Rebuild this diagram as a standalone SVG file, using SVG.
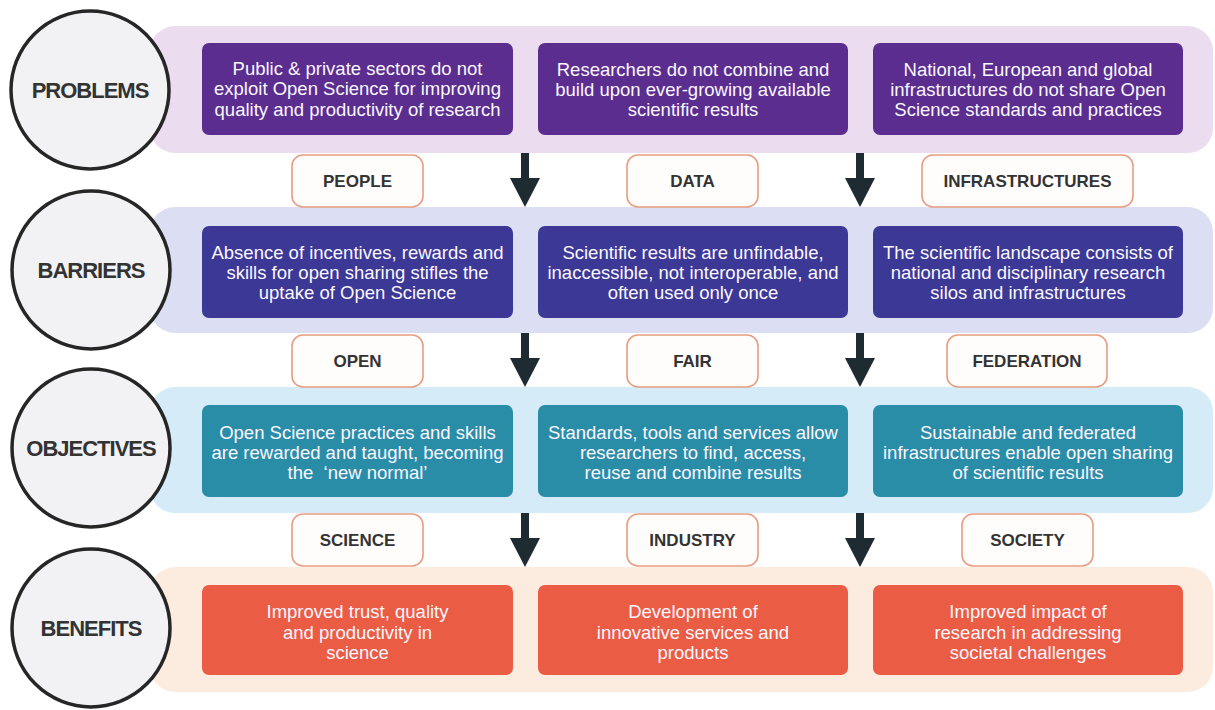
<svg xmlns="http://www.w3.org/2000/svg" width="1215" height="710" viewBox="0 0 1215 710">
<style>
.circ{fill:#f2f2f4;stroke:#262626;stroke-width:3.5}
.ctext{font-family:"Liberation Sans",Arial,sans-serif;font-weight:bold;font-size:22px;fill:#333;letter-spacing:-1px;text-anchor:middle}
.btext{font-family:"Liberation Sans",Arial,sans-serif;font-size:18.5px;fill:#fbf7ff;text-anchor:middle}
.pill{fill:#fffdfb;stroke:#e89c80;stroke-width:1.6}
.ptext{font-family:"Liberation Sans",Arial,sans-serif;font-weight:bold;font-size:17px;fill:#333;text-anchor:middle}
.p-box{fill:#5a2d8f}
.b-box{fill:#3b3896}
.o-box{fill:#2a8da8}
.e-box{fill:#eb5c45}
.arrow{stroke:#1e2b30;stroke-width:8;fill:none}
</style>
<defs>
<marker id="ah" viewBox="0 0 29 30" refX="0" refY="15" markerWidth="29" markerHeight="30" markerUnits="userSpaceOnUse" orient="auto">
<path d="M0,0 L29,15 L0,30 z" fill="#1e2b30"/>
</marker>
</defs>
<rect width="1215" height="710" fill="#ffffff"/>

<g id="bands">
<rect x="150" y="26" width="1063" height="127" rx="25" fill="#ecdcef"/>
<rect x="150" y="207" width="1063" height="126" rx="25" fill="#dcdff3"/>
<rect x="150" y="387" width="1063" height="126" rx="25" fill="#d5ebf7"/>
<rect x="150" y="567" width="1063" height="125" rx="25" fill="#fcece0"/>
</g>

<g id="problems">
<circle class="circ" cx="90" cy="90" r="79"/>
<text class="ctext" x="90" y="98">PROBLEMS</text>
</g>
<g id="barriers">
<circle class="circ" cx="91" cy="270" r="79"/>
<text class="ctext" x="91" y="278">BARRIERS</text>
</g>
<g id="objectives">
<circle class="circ" cx="91" cy="448" r="79"/>
<text class="ctext" x="91" y="456">OBJECTIVES</text>
</g>
<g id="benefits">
<circle class="circ" cx="91" cy="628" r="79"/>
<text class="ctext" x="91" y="636">BENEFITS</text>
</g>

<g id="problem-1">
<rect class="p-box" x="202" y="43" width="311" height="92" rx="7"/>
<text class="btext" x="357.5" y="75">Public &amp; private sectors do not</text>
<text class="btext" x="357.5" y="95">exploit Open Science for improving</text>
<text class="btext" x="357.5" y="116">quality and productivity of research</text>
</g>
<g id="problem-2">
<rect class="p-box" x="538" y="43" width="310" height="92" rx="7"/>
<text class="btext" x="693" y="76">Researchers do not combine and</text>
<text class="btext" x="693" y="96">build upon ever-growing available</text>
<text class="btext" x="693" y="116">scientific results</text>
</g>
<g id="problem-3">
<rect class="p-box" x="873" y="43" width="310" height="92" rx="7"/>
<text class="btext" x="1028" y="76">National, European and global</text>
<text class="btext" x="1028" y="96">infrastructures do not share Open</text>
<text class="btext" x="1028" y="116">Science standards and practices</text>
</g>

<g id="barrier-1">
<rect class="b-box" x="202" y="226" width="311" height="92" rx="7"/>
<text class="btext" x="357.5" y="259">Absence of incentives, rewards and</text>
<text class="btext" x="357.5" y="279">skills for open sharing stifles the</text>
<text class="btext" x="357.5" y="299">uptake of Open Science</text>
</g>
<g id="barrier-2">
<rect class="b-box" x="538" y="226" width="310" height="92" rx="7"/>
<text class="btext" x="693" y="259">Scientific results are unfindable,</text>
<text class="btext" x="693" y="279">inaccessible, not interoperable, and</text>
<text class="btext" x="693" y="299">often used only once</text>
</g>
<g id="barrier-3">
<rect class="b-box" x="873" y="226" width="310" height="92" rx="7"/>
<text class="btext" x="1028" y="259">The scientific landscape consists of</text>
<text class="btext" x="1028" y="279">national and disciplinary research</text>
<text class="btext" x="1028" y="299">silos and infrastructures</text>
</g>

<g id="objective-1">
<rect class="o-box" x="202" y="405" width="311" height="92" rx="7"/>
<text class="btext" x="357.5" y="439">Open Science practices and skills</text>
<text class="btext" x="357.5" y="459">are rewarded and taught, becoming</text>
<text class="btext" x="357.5" y="479" xml:space="preserve">the  ‘new normal’</text>
</g>
<g id="objective-2">
<rect class="o-box" x="538" y="405" width="310" height="92" rx="7"/>
<text class="btext" x="693" y="439">Standards, tools and services allow</text>
<text class="btext" x="693" y="459">researchers to find, access,</text>
<text class="btext" x="693" y="479">reuse and combine results</text>
</g>
<g id="objective-3">
<rect class="o-box" x="873" y="405" width="310" height="92" rx="7"/>
<text class="btext" x="1028" y="439">Sustainable and federated</text>
<text class="btext" x="1028" y="459">infrastructures enable open sharing</text>
<text class="btext" x="1028" y="479">of scientific results</text>
</g>

<g id="benefit-1">
<rect class="e-box" x="202" y="585" width="311" height="90" rx="7"/>
<text class="btext" x="357.5" y="618">Improved trust, quality</text>
<text class="btext" x="357.5" y="639">and productivity in</text>
<text class="btext" x="357.5" y="659">science</text>
</g>
<g id="benefit-2">
<rect class="e-box" x="538" y="585" width="310" height="90" rx="7"/>
<text class="btext" x="693" y="618">Development of</text>
<text class="btext" x="693" y="639">innovative services and</text>
<text class="btext" x="693" y="659">products</text>
</g>
<g id="benefit-3">
<rect class="e-box" x="873" y="585" width="310" height="90" rx="7"/>
<text class="btext" x="1028" y="618">Improved impact of</text>
<text class="btext" x="1028" y="639">research in addressing</text>
<text class="btext" x="1028" y="659">societal challenges</text>
</g>

<g id="label-people"><rect class="pill" x="292" y="155" width="131" height="52" rx="11"/><text class="ptext" x="357.5" y="187">PEOPLE</text></g>
<g id="label-data"><rect class="pill" x="627" y="155" width="131" height="52" rx="11"/><text class="ptext" x="692.5" y="187">DATA</text></g>
<g id="label-infrastructures"><rect class="pill" x="922" y="155" width="211" height="52" rx="11"/><text class="ptext" x="1027.5" y="187">INFRASTRUCTURES</text></g>
<g id="label-open"><rect class="pill" x="292" y="335" width="131" height="52" rx="11"/><text class="ptext" x="357.5" y="367">OPEN</text></g>
<g id="label-fair"><rect class="pill" x="627" y="335" width="131" height="52" rx="11"/><text class="ptext" x="692.5" y="367">FAIR</text></g>
<g id="label-federation"><rect class="pill" x="947" y="335" width="160" height="52" rx="11"/><text class="ptext" x="1027" y="367">FEDERATION</text></g>
<g id="label-science"><rect class="pill" x="292" y="514" width="131" height="52" rx="11"/><text class="ptext" x="357.5" y="546">SCIENCE</text></g>
<g id="label-industry"><rect class="pill" x="627" y="514" width="131" height="52" rx="11"/><text class="ptext" x="692.5" y="546">INDUSTRY</text></g>
<g id="label-society"><rect class="pill" x="962" y="514" width="131" height="52" rx="11"/><text class="ptext" x="1027.5" y="546">SOCIETY</text></g>

<g id="connectors">
<line class="arrow" x1="525" y1="153" x2="525" y2="178" marker-end="url(#ah)"/>
<line class="arrow" x1="860" y1="153" x2="860" y2="178" marker-end="url(#ah)"/>
<line class="arrow" x1="525" y1="333" x2="525" y2="358" marker-end="url(#ah)"/>
<line class="arrow" x1="860" y1="333" x2="860" y2="358" marker-end="url(#ah)"/>
<line class="arrow" x1="525" y1="513" x2="525" y2="538" marker-end="url(#ah)"/>
<line class="arrow" x1="860" y1="513" x2="860" y2="538" marker-end="url(#ah)"/>
</g>
</svg>
